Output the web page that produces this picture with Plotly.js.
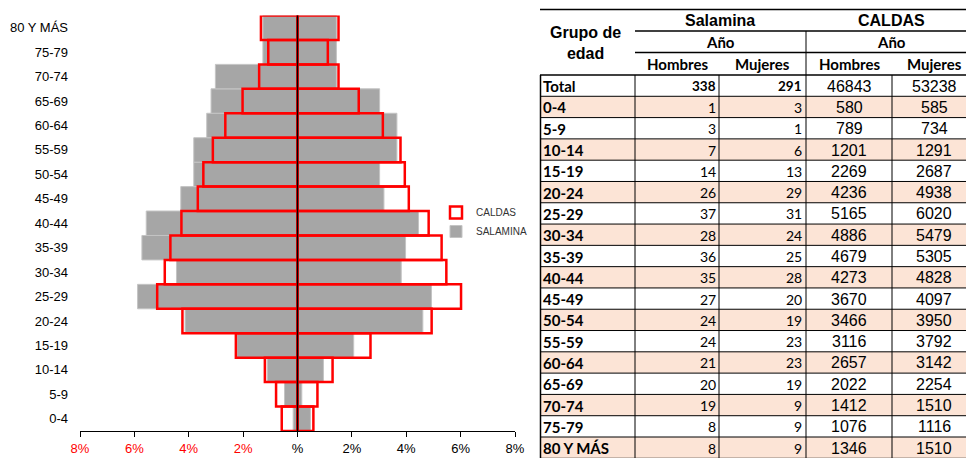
<!DOCTYPE html>
<html>
<head>
<meta charset="utf-8">
<script src="https://cdn.plot.ly/plotly-3.0.1.min.js"></script>
<style>html,body{margin:0;padding:0;background:#fff;}#chart{width:966px;height:458px;}</style>
</head>
<body>
<div id="chart"></div>
<script>
// ---------------- DATA ----------------
const ageGroups = ['0-4','5-9','10-14','15-19','20-24','25-29','30-34','35-39','40-44','45-49','50-54','55-59','60-64','65-69','70-74','75-79','80 Y MÁS'];
const salaminaHombres = [1,3,7,14,26,37,28,36,35,27,24,24,21,20,19,8,8];
const salaminaMujeres = [3,1,6,13,29,31,24,25,28,20,19,23,23,19,9,9,9];
const caldasHombres = [580,789,1201,2269,4236,5165,4886,4679,4273,3670,3466,3116,2657,2022,1412,1076,1346];
const caldasMujeres = [585,734,1291,2687,4938,6020,5479,5305,4828,4097,3950,3792,3142,2254,1510,1116,1510];
const salaminaTotal = [338, 291];
const caldasTotal = [46843, 53238];
const xTickVals = [-8,-6,-4,-2,0,2,4,6,8];
const xTickText = ['8%','6%','4%','2%','%','2%','4%','6%','8%'];
const tableTitle = ['Grupo de', 'edad'];
const placeNames = ['Salamina', 'CALDAS'];
const yearLabel = 'Año';
const sexLabels = ['Hombres', 'Mujeres'];
const totalLabel = 'Total';

// ---------------- HELPERS ----------------
const W = 966, H = 458;
const fx = p => p / W;
const fy = p => 1 - p / H;
const salTot = salaminaTotal[0] + salaminaTotal[1];
const calTot = caldasTotal[0] + caldasTotal[1];
const pct = (arr, tot, sign) => arr.map(v => sign * v / tot * 100);

const GREY = '#A6A6A6', RED = '#FF0000';

const traces = [
  {type:'bar', orientation:'h', y: ageGroups, x: pct(salaminaHombres, salTot, -1), name:'SALAMINA', legendgroup:'s', legendrank:2,
   marker:{color:GREY, line:{color:'#C4C4C4', width:1}}, hoverinfo:'skip'},
  {type:'bar', orientation:'h', y: ageGroups, x: pct(salaminaMujeres, salTot, 1), name:'SALAMINA', legendgroup:'s', showlegend:false,
   marker:{color:GREY, line:{color:'#C4C4C4', width:1}}, hoverinfo:'skip'},
  {type:'bar', orientation:'h', y: ageGroups, x: pct(caldasHombres, calTot, -1), name:'CALDAS', legendgroup:'c', legendrank:1,
   marker:{color:'rgba(0,0,0,0)', line:{color:RED, width:2.5}}, hoverinfo:'skip'},
  {type:'bar', orientation:'h', y: ageGroups, x: pct(caldasMujeres, calTot, 1), name:'CALDAS', legendgroup:'c', showlegend:false,
   marker:{color:'rgba(0,0,0,0)', line:{color:RED, width:2.5}}, hoverinfo:'skip'}
];

// ---------------- TABLE (shapes + annotations) ----------------
const shapes = [];
const annotations = [];
const tLeft = 540, tRight = 966;
const rowTop = 75, rowH = (437 - 75) / 17;
const rowLabels = [totalLabel].concat(ageGroups);
const nRows = rowLabels.length;
const tBottom = rowTop + rowH * nRows;

// peach bands
for (let i = 0; i < nRows; i++) {
  if (i % 2 === 1) {
    shapes.push({type:'rect', xref:'paper', yref:'paper', x0:fx(tLeft), x1:fx(tRight),
      y0:fy(rowTop + rowH*(i+1)), y1:fy(rowTop + rowH*i), fillcolor:'#FCE4D6', line:{width:0}, layer:'below'});
  }
}
const hline = (y, x0, x1, w) => shapes.push({type:'line', xref:'paper', yref:'paper', x0:fx(x0), x1:fx(x1), y0:fy(y), y1:fy(y), line:{color:'#000', width:w}});
const vline = (x, y0, y1, w) => shapes.push({type:'line', xref:'paper', yref:'paper', x0:fx(x), x1:fx(x), y0:fy(y0), y1:fy(y1), line:{color:'#000', width:w}});
hline(9.5, tLeft, tRight, 1.5);
hline(31, 635, tRight, 1.5);
hline(52.5, 635, tRight, 1.5);
for (let i = 0; i <= nRows; i++) hline(rowTop + rowH*i, tLeft, tRight, i === 0 ? 1.5 : 1);
vline(540.5, rowTop, H, 1.5);
vline(635, rowTop, H, 1);
vline(719, rowTop, H, 1);
vline(806, 31, H, 1);
vline(892, rowTop, H, 1);

const ann = (text, x, y, xanchor, font) => annotations.push({text, x:fx(x), y:fy(y), xref:'paper', yref:'paper',
  xanchor, yanchor:'middle', showarrow:false, font});
const arialB = s => ({family:'Liberation Sans, Arial, sans-serif', size:s, color:'#000', weight:'bold'});
const arial = s => ({family:'Liberation Sans, Arial, sans-serif', size:s, color:'#000'});
const latoB = s => ({family:'Lato, sans-serif', size:s, color:'#000', weight:'bold'});
const lato = s => ({family:'Lato, sans-serif', size:s, color:'#000'});

ann('<b>' + tableTitle.join('<br>') + '</b>', 585, 43, 'center', arialB(16));
ann('<b>' + placeNames[0] + '</b>', 720, 20.5, 'center', arialB(16));
ann('<b>' + placeNames[1] + '</b>', 891, 20.5, 'center', arialB(16));
ann('<b>' + yearLabel + '</b>', 720, 42.5, 'center', latoB(15));
ann('<b>' + yearLabel + '</b>', 891, 42.5, 'center', latoB(15));
ann('<b>' + sexLabels[0] + '</b>', 677, 64, 'center', latoB(15));
ann('<b>' + sexLabels[1] + '</b>', 762, 64, 'center', latoB(15));
ann('<b>' + sexLabels[0] + '</b>', 849, 64, 'center', latoB(15));
ann('<b>' + sexLabels[1] + '</b>', 934, 64, 'center', latoB(15));

const salH = [salaminaTotal[0]].concat(salaminaHombres);
const salM = [salaminaTotal[1]].concat(salaminaMujeres);
const calH = [caldasTotal[0]].concat(caldasHombres);
const calM = [caldasTotal[1]].concat(caldasMujeres);
for (let i = 0; i < nRows; i++) {
  const yc = rowTop + rowH*(i+0.5) + 0.5;
  ann('<b>' + rowLabels[i] + '</b>', 541, yc, 'left', latoB(15));
  const sf = i === 0 ? latoB(13.5) : lato(14);
  const wrap = v => i === 0 ? '<b>' + v + '</b>' : String(v);
  ann(wrap(salH[i]), 718, yc, 'right', sf);
  ann(wrap(salM[i]), 804, yc, 'right', sf);
  ann(String(calH[i]), 849, yc, 'center', arial(16));
  ann(String(calM[i]), 934, yc, 'center', arial(16));
}

// zero axis line
shapes.push({type:'line', xref:'x', yref:'paper', x0:0, x1:0, y0:fy(431), y1:fy(15.5), line:{color:'#000', width:1.5}, layer:'above'});

const xDom = [fx(80), fx(515)];
const yDom = [fy(431), fy(15.5)];
const zeroPos = xDom[0] + (xDom[1] - xDom[0]) / 2;

const layout = {
  width: W, height: H,
  margin: {l:0, r:0, t:0, b:0, pad:0},
  paper_bgcolor:'#fff', plot_bgcolor:'rgba(0,0,0,0)',
  barmode:'overlay', bargap:0,
  font: {family:'Liberation Sans, Arial, sans-serif', size:13, color:'#000'},
  xaxis: {domain:xDom, range:[-8,8], tickmode:'array', tickvals:xTickVals,
    ticktext: xTickText.map((t,i) => xTickVals[i] < 0 ? '<span style="color:#FF0000">' + t + '</span>' : t),
    showgrid:false, zeroline:false, showline:true, linecolor:'#000', linewidth:1,
    ticks:'outside', ticklen:5, tickcolor:'#000', tickfont:{size:13, color:'#000'}, fixedrange:true},
  yaxis: {domain:yDom, type:'category', range:[-0.5, 16.5], showgrid:false, zeroline:false, showline:false,
    ticks:'', ticklabelstandoff:11, tickfont:{size:13, color:'#000'}, fixedrange:true},
  yaxis2: {overlaying:'y', anchor:'free', position:zeroPos, range:[-0.5,16.5], domain:yDom,
    showgrid:false, zeroline:false, showline:false, showticklabels:false,
    tickmode:'array', tickvals:[...Array(17).keys()], ticks:'inside', ticklen:3, tickcolor:'#000', tickwidth:1,
    minor:{tickmode:'array', tickvals:[...Array(18).keys()].map(k => k - 0.5), ticks:'outside', ticklen:3, tickcolor:'#000', tickwidth:1}},
  showlegend:true,
  legend: {x:fx(436), y:fy(222), xanchor:'left', yanchor:'middle', bgcolor:'rgba(0,0,0,0)',
    font:{family:'Liberation Sans, Arial, sans-serif', size:10, color:'#333'}, tracegroupgap:0, itemwidth:30},
  shapes, annotations
};

Plotly.newPlot('chart', traces, layout, {displayModeBar:false, staticPlot:true});
</script>
</body>
</html>
